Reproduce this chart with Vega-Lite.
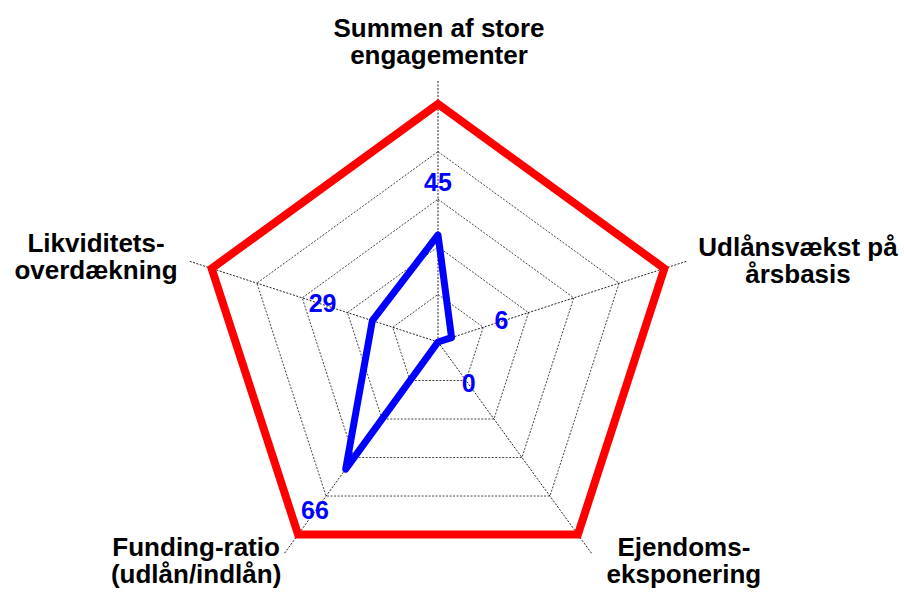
{
  "$schema": "https://vega.github.io/schema/vega-lite/v6.json",
  "width": 904,
  "height": 592,
  "padding": 0,
  "autosize": {"type": "fit", "contains": "padding"},
  "background": "white",
  "config": {"view": {"stroke": null}},
  "datasets": {
    "axes": [
      {"i": 0, "axis": "Summen af store\nengagementer", "value": 45, "limit": 100},
      {"i": 1, "axis": "Udlånsvækst på\nårsbasis", "value": 6, "limit": 100},
      {"i": 2, "axis": "Ejendoms-\neksponering", "value": 0, "limit": 100},
      {"i": 3, "axis": "Funding-ratio\n(udlån/indlån)", "value": 66, "limit": 100},
      {"i": 4, "axis": "Likviditets-\noverdækning", "value": 29, "limit": 100}
    ],
    "rings": [
      {"level": 20, "i": 0}, {"level": 20, "i": 1}, {"level": 20, "i": 2}, {"level": 20, "i": 3}, {"level": 20, "i": 4},
      {"level": 40, "i": 0}, {"level": 40, "i": 1}, {"level": 40, "i": 2}, {"level": 40, "i": 3}, {"level": 40, "i": 4},
      {"level": 60, "i": 0}, {"level": 60, "i": 1}, {"level": 60, "i": 2}, {"level": 60, "i": 3}, {"level": 60, "i": 4},
      {"level": 80, "i": 0}, {"level": 80, "i": 1}, {"level": 80, "i": 2}, {"level": 80, "i": 3}, {"level": 80, "i": 4}
    ]
  },
  "encoding": {
    "x": {"field": "x", "type": "quantitative", "scale": {"domain": [-184.03, 195.8], "nice": false, "zero": false}, "axis": null},
    "y": {"field": "y", "type": "quantitative", "scale": {"domain": [-105.04, 143.7], "nice": false, "zero": false}, "axis": null}
  },
  "layer": [
    {
      "data": {"name": "rings"},
      "transform": [
        {"calculate": "datum.i * 2 * PI / 5", "as": "a"},
        {"calculate": "datum.level * sin(datum.a)", "as": "x"},
        {"calculate": "datum.level * cos(datum.a)", "as": "y"}
      ],
      "mark": {"type": "line", "interpolate": "linear-closed", "color": "#444444", "strokeWidth": 1, "strokeDash": [2, 1.5]},
      "encoding": {"detail": {"field": "level"}, "order": {"field": "i"}}
    },
    {
      "data": {"name": "axes"},
      "transform": [
        {"calculate": "datum.i * 2 * PI / 5", "as": "a"},
        {"calculate": "0", "as": "x"},
        {"calculate": "0", "as": "y"},
        {"calculate": "110 * sin(datum.a)", "as": "x2"},
        {"calculate": "110 * cos(datum.a)", "as": "y2"}
      ],
      "mark": {"type": "rule", "color": "#222222", "strokeWidth": 1, "strokeDash": [2, 1.5]},
      "encoding": {"x2": {"field": "x2"}, "y2": {"field": "y2"}}
    },
    {
      "data": {"name": "axes"},
      "transform": [
        {"calculate": "datum.i * 2 * PI / 5", "as": "a"},
        {"calculate": "datum.limit * sin(datum.a)", "as": "x"},
        {"calculate": "datum.limit * cos(datum.a)", "as": "y"}
      ],
      "mark": {"type": "line", "interpolate": "linear-closed", "color": "#FF0000", "strokeWidth": 8, "strokeJoin": "miter"},
      "encoding": {"order": {"field": "i"}}
    },
    {
      "data": {"name": "axes"},
      "transform": [
        {"calculate": "datum.i * 2 * PI / 5", "as": "a"},
        {"calculate": "datum.value * sin(datum.a)", "as": "x"},
        {"calculate": "datum.value * cos(datum.a)", "as": "y"}
      ],
      "mark": {"type": "line", "interpolate": "linear-closed", "color": "#0000FF", "strokeWidth": 7, "strokeJoin": "round"},
      "encoding": {"order": {"field": "i"}}
    },
    {
      "data": {"name": "axes"},
      "transform": [
        {"calculate": "datum.i * 2 * PI / 5", "as": "a"},
        {"calculate": "(datum.value + 22) * sin(datum.a)", "as": "x"},
        {"calculate": "(datum.value + 22) * cos(datum.a)", "as": "y"}
      ],
      "mark": {"type": "text", "color": "#0000FF", "font": "Liberation Sans", "fontWeight": "bold", "fontSize": 25, "align": "center", "baseline": "middle"},
      "encoding": {"text": {"field": "value", "type": "quantitative"}}
    },
    {
      "data": {"name": "axes"},
      "transform": [
        {"filter": "datum.i == 0"},
        {"calculate": "datum.i * 2 * PI / 5", "as": "a"},
        {"calculate": "110 * sin(datum.a)", "as": "x"},
        {"calculate": "110 * cos(datum.a)", "as": "y"}
      ],
      "mark": {"type": "text", "color": "black", "font": "Liberation Sans", "fontWeight": "bold", "fontSize": 26, "align": "center", "baseline": "alphabetic", "lineBreak": "\n", "lineHeight": 27, "dx": 1, "dy": -43},
      "encoding": {"text": {"field": "axis", "type": "nominal"}}
    },
    {
      "data": {"name": "axes"},
      "transform": [
        {"filter": "datum.i == 1"},
        {"calculate": "datum.i * 2 * PI / 5", "as": "a"},
        {"calculate": "110 * sin(datum.a)", "as": "x"},
        {"calculate": "110 * cos(datum.a)", "as": "y"}
      ],
      "mark": {"type": "text", "color": "black", "font": "Liberation Sans", "fontWeight": "bold", "fontSize": 26, "align": "center", "baseline": "alphabetic", "lineBreak": "\n", "lineHeight": 27, "dx": 111, "dy": -5},
      "encoding": {"text": {"field": "axis", "type": "nominal"}}
    },
    {
      "data": {"name": "axes"},
      "transform": [
        {"filter": "datum.i == 2"},
        {"calculate": "datum.i * 2 * PI / 5", "as": "a"},
        {"calculate": "110 * sin(datum.a)", "as": "x"},
        {"calculate": "110 * cos(datum.a)", "as": "y"}
      ],
      "mark": {"type": "text", "color": "black", "font": "Liberation Sans", "fontWeight": "bold", "fontSize": 26, "align": "center", "baseline": "alphabetic", "lineBreak": "\n", "lineHeight": 27, "dx": 92, "dy": 2},
      "encoding": {"text": {"field": "axis", "type": "nominal"}}
    },
    {
      "data": {"name": "axes"},
      "transform": [
        {"filter": "datum.i == 3"},
        {"calculate": "datum.i * 2 * PI / 5", "as": "a"},
        {"calculate": "110 * sin(datum.a)", "as": "x"},
        {"calculate": "110 * cos(datum.a)", "as": "y"}
      ],
      "mark": {"type": "text", "color": "black", "font": "Liberation Sans", "fontWeight": "bold", "fontSize": 26, "align": "center", "baseline": "alphabetic", "lineBreak": "\n", "lineHeight": 27, "dx": -88, "dy": 2},
      "encoding": {"text": {"field": "axis", "type": "nominal"}}
    },
    {
      "data": {"name": "axes"},
      "transform": [
        {"filter": "datum.i == 4"},
        {"calculate": "datum.i * 2 * PI / 5", "as": "a"},
        {"calculate": "110 * sin(datum.a)", "as": "x"},
        {"calculate": "110 * cos(datum.a)", "as": "y"}
      ],
      "mark": {"type": "text", "color": "black", "font": "Liberation Sans", "fontWeight": "bold", "fontSize": 26, "align": "center", "baseline": "alphabetic", "lineBreak": "\n", "lineHeight": 27, "dx": -93, "dy": -9},
      "encoding": {"text": {"field": "axis", "type": "nominal"}}
    }
  ]
}
